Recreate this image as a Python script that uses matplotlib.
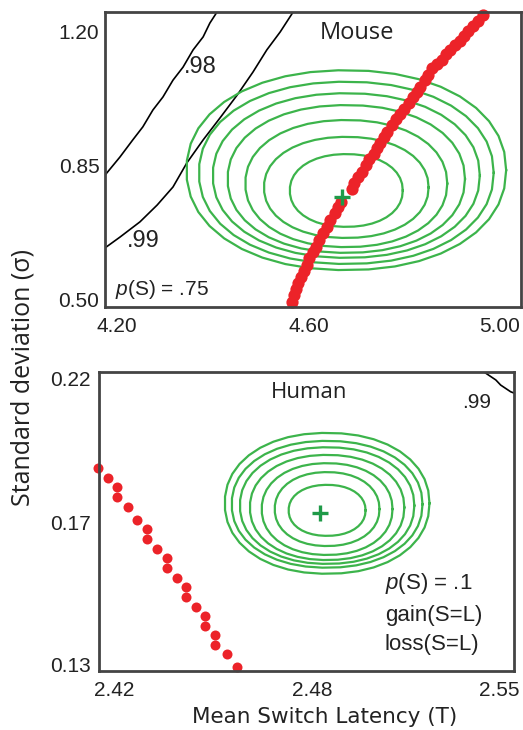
import numpy as np
import matplotlib
matplotlib.use("Agg")
import matplotlib.pyplot as plt

# fonts: Arial-like for numbers, humanist for titles
narrow = ['Liberation Sans', 'DejaVu Sans']
plt.rcParams['mathtext.fontset'] = 'custom'
plt.rcParams['mathtext.it'] = 'Liberation Sans:italic'
plt.rcParams['mathtext.rm'] = 'Liberation Sans'

RED = '#ec2329'
GREEN = '#3cb44b'
CROSS = '#1f9a48'

# ---------------- Mouse panel data ----------------
mouse_xticks = [4.20, 4.60, 5.00]
mouse_yticks = [0.50, 0.85, 1.20]

mouse_red_x = [4.565, 4.570, 4.575, 4.579, 4.584, 4.591, 4.596, 4.602, 4.609, 4.616,
               4.623, 4.630, 4.638, 4.645, 4.655, 4.662, 4.669, 4.690, 4.695, 4.704,
               4.711, 4.720, 4.727, 4.736, 4.744, 4.749, 4.758, 4.765, 4.774, 4.783,
               4.791, 4.800, 4.809, 4.818, 4.826, 4.834, 4.843, 4.850, 4.859, 4.868,
               4.878, 4.887, 4.896, 4.906, 4.917, 4.925, 4.934, 4.944, 4.955, 4.965]
mouse_red_y = [0.496, 0.513, 0.530, 0.545, 0.561, 0.576, 0.591, 0.609, 0.626, 0.639,
               0.657, 0.674, 0.691, 0.709, 0.726, 0.744, 0.757, 0.791, 0.805, 0.822,
               0.835, 0.852, 0.867, 0.881, 0.896, 0.909, 0.926, 0.939, 0.957, 0.972,
               0.986, 1.000, 1.015, 1.029, 1.044, 1.057, 1.074, 1.087, 1.105, 1.116,
               1.127, 1.142, 1.153, 1.166, 1.177, 1.189, 1.203, 1.215, 1.229, 1.244]

mouse_98_x = [4.175, 4.206, 4.233, 4.254, 4.275, 4.296, 4.317, 4.338, 4.359, 4.380, 4.394, 4.409]
mouse_98_y = [0.826, 0.873, 0.918, 0.952, 0.996, 1.030, 1.074, 1.108, 1.153, 1.187, 1.223, 1.252]
mouse_99_x = [4.175, 4.206, 4.248, 4.284, 4.317, 4.346, 4.380, 4.415, 4.451, 4.484, 4.513, 4.541, 4.568]
mouse_99_y = [0.636, 0.664, 0.704, 0.748, 0.795, 0.858, 0.918, 0.975, 1.035, 1.095, 1.153, 1.200, 1.252]

mouse_cx = 4.679
mouse_cy = [0.839, 0.832, 0.825, 0.816, 0.804, 0.794, 0.786]
mouse_a = [0.334, 0.308, 0.279, 0.248, 0.211, 0.172, 0.118]
mouse_b = [0.261, 0.238, 0.215, 0.193, 0.166, 0.132, 0.095]
mouse_best = (4.670, 0.769)

# ---------------- Human panel data ----------------
human_xticks = [2.42, 2.4855, 2.547]
human_xlabels = ['2.42', '2.48', '2.55']
human_yticks = [0.13, 0.1746, 0.22]
human_ylabels = ['0.13', '0.17', '0.22']

human_red_x = [2.4148, 2.4181, 2.4210, 2.4210, 2.4245, 2.4276, 2.4308, 2.4308, 2.4341, 2.4373,
               2.4373, 2.4406, 2.4437, 2.4437, 2.4469, 2.4501, 2.4501, 2.4533, 2.4533, 2.4573, 2.4604]
human_red_y = [0.1917, 0.1886, 0.1857, 0.1826, 0.1795, 0.1755, 0.1726, 0.1694, 0.1663, 0.1635,
               0.1603, 0.1572, 0.1544, 0.1513, 0.1483, 0.1454, 0.1423, 0.1393, 0.1362, 0.1333, 0.1292]

human_99_x = [2.5421, 2.5460, 2.5476, 2.5509, 2.552]
human_99_y = [0.2219, 0.2194, 0.2178, 0.2157, 0.2153]

human_cx = 2.4903
human_cy = [0.1807, 0.1804, 0.1800, 0.1794, 0.1789, 0.1789, 0.1785]
human_a = [0.0338, 0.0315, 0.0288, 0.0255, 0.0216, 0.0173, 0.0127]
human_b = [0.0221, 0.0199, 0.0183, 0.0165, 0.0144, 0.0116, 0.0080]
human_best = (2.4879, 0.1777)


def ring(cx, cy, a, b, n=2.15, npts=40):
    # rounded outline, coarse sampling like a gridded contour
    t = np.linspace(0, 2 * np.pi, npts)
    c, s = np.cos(t), np.sin(t)
    x = cx + a * np.sign(c) * np.abs(c) ** (2 / n)
    y = cy + b * np.sign(s) * np.abs(s) ** (2 / n)
    return x, y


def style_axes(ax):
    for sp in ax.spines.values():
        sp.set_linewidth(2.0)
        sp.set_color('#444444')
    ax.tick_params(length=0, labelsize=15, labelcolor='#222222')
    for lab in ax.get_xticklabels() + ax.get_yticklabels():
        lab.set_family(narrow)


fig = plt.figure(figsize=(5.23, 7.30), dpi=100)

# ---- top: Mouse ----
ax1 = fig.add_axes([105 / 523, 1 - 307 / 730, 416 / 523, 295 / 730])
ax1.set_xlim(4.175, 5.044)
ax1.set_ylim(0.4817, 1.252)
ax1.set_xticks(mouse_xticks, ['%.2f' % v for v in mouse_xticks])
ax1.set_yticks(mouse_yticks, ['%.2f' % v for v in mouse_yticks])

ax1.plot(mouse_98_x, mouse_98_y, color='black', lw=1.2)
ax1.plot(mouse_99_x, mouse_99_y, color='black', lw=1.2)
for cy, a, b in zip(mouse_cy, mouse_a, mouse_b):
    x, y = ring(mouse_cx, cy, a, b)
    ax1.plot(x, y, color=GREEN, lw=1.6)
ax1.plot(mouse_red_x, mouse_red_y, 'o', color=RED, ms=8.8, mec='none', clip_on=False)
ax1.plot(*mouse_best, '+', color=CROSS, ms=11, mew=2.4)

ax1.text(4.373, 1.108, '.98', fontsize=17, family=narrow, ha='center', va='center', color='#222222')
ax1.text(4.255, 0.654, '.99', fontsize=17, family=narrow, ha='center', va='center', color='#222222')
ax1.text(0.606, 0.929, 'Mouse', transform=ax1.transAxes, fontsize=17, family='Open Sans',
         ha='center', va='center', color='#222222')
ax1.text(0.024, 0.058, r'$p$(S) = .75', transform=ax1.transAxes, fontsize=15, family=narrow,
         ha='left', va='center', color='#222222')
ax1.tick_params(axis='x', pad=7)
ax1.tick_params(axis='y', pad=4)
style_axes(ax1)

# ---- bottom: Human ----
ax2 = fig.add_axes([99 / 523, 1 - 671 / 730, 415 / 523, 299 / 730])
ax2.set_xlim(2.415, 2.552)
ax2.set_ylim(0.1281, 0.2219)
ax2.set_xticks(human_xticks, human_xlabels)
ax2.set_yticks(human_yticks, human_ylabels)

ax2.plot(human_99_x, human_99_y, color='black', lw=1.2)
for cy, a, b in zip(human_cy, human_a, human_b):
    x, y = ring(human_cx, cy, a, b)
    ax2.plot(x, y, color=GREEN, lw=1.6)
ax2.plot(human_red_x, human_red_y, 'o', color=RED, ms=7.2, mec='none', clip_on=False)
ax2.plot(*human_best, '+', color=CROSS, ms=11, mew=2.4)

ax2.text(2.5398, 0.2122, '.99', fontsize=15, family=narrow, ha='center', va='center', color='#222222')
ax2.text(0.507, 0.93, 'Human', transform=ax2.transAxes, fontsize=16, family='Open Sans',
         ha='center', va='center', color='#222222')
for yy, s in zip([0.291, 0.184, 0.087], [r'$p$(S) = .1', 'gain(S=L)', 'loss(S=L)']):
    ax2.text(0.689, yy, s, transform=ax2.transAxes, fontsize=16, family=narrow,
             ha='left', va='center', color='#222222')
ax2.tick_params(axis='x', pad=7)
ax2.tick_params(axis='y', pad=6)
style_axes(ax2)

fig.text(23 / 523, 1 - 378 / 730, 'Standard deviation (σ)', rotation=90, fontsize=18,
         family='Open Sans', ha='center', va='center', color='#222222')
fig.text(325 / 523, 1 - 717 / 730, 'Mean Switch Latency (T)', fontsize=15.5,
         family='DejaVu Sans', ha='center', va='center', color='#222222')

fig.savefig('out.png', dpi=100)
